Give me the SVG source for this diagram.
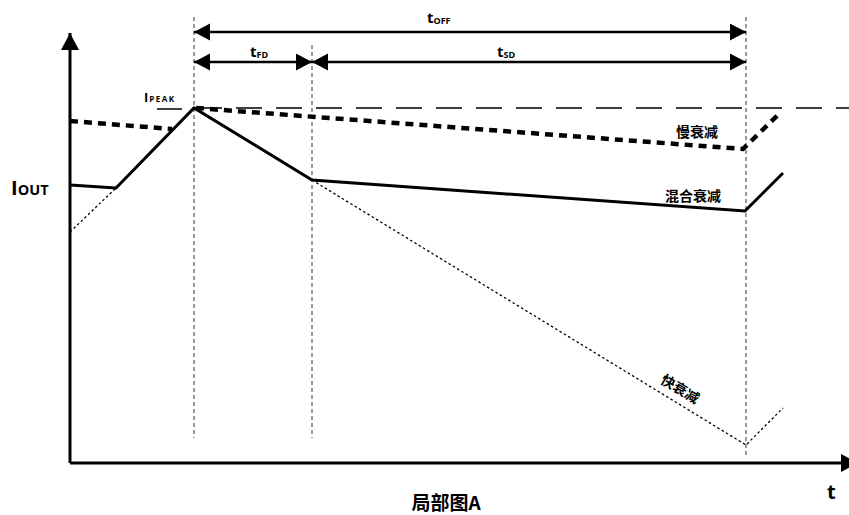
<svg xmlns="http://www.w3.org/2000/svg" width="849" height="515" viewBox="0 0 849 515">
<style>
.axis{stroke:#000;stroke-width:3;fill:none}
.vguide{stroke:#999;stroke-width:2;stroke-dasharray:4 3;fill:none}
.dim{stroke:#000;stroke-width:2.5;fill:none}
.peakdash{stroke:#000;stroke-width:1.5;stroke-dasharray:26 14;fill:none}
.mixed{stroke:#000;stroke-width:3;fill:none;stroke-linejoin:miter}
.slow{stroke:#000;stroke-width:4.5;stroke-dasharray:8 6;fill:none}
.fast{stroke:#000;stroke-width:1.3;stroke-dasharray:2.5 2.5;fill:none}
.lbl{font-family:"Open Sans","Noto Sans","Liberation Sans",sans-serif;font-weight:bold;fill:#000}
.cjk{font-family:"Noto Sans CJK SC","Noto Sans",sans-serif;font-weight:bold;fill:#000;font-size:14px}
.title{font-family:"Noto Sans CJK SC","Noto Sans",sans-serif;font-weight:bold;fill:#000;font-size:19px}
</style>
<defs>
<marker id="ah" markerUnits="userSpaceOnUse" markerWidth="17" markerHeight="18" refX="16" refY="8.5" orient="auto-start-reverse" viewBox="0 0 17 18">
<path d="M0,0 L16,8.5 L0,17 z" fill="#000"/>
</marker>
<marker id="axh" markerUnits="userSpaceOnUse" markerWidth="18" markerHeight="20" refX="17" refY="9" orient="auto" viewBox="0 0 18 20">
<path d="M0,0 L17,9 L0,18 z" fill="#000"/>
</marker>
</defs>
<rect width="849" height="515" fill="#fff"/>

<g id="guides">
<line class="vguide" x1="194" y1="17" x2="194" y2="438"/>
<line class="vguide" x1="312" y1="45" x2="312" y2="438"/>
<line class="vguide" x1="746" y1="17" x2="746" y2="458"/>
</g>

<g id="axes">
<line class="axis" x1="70" y1="463" x2="70" y2="33" marker-end="url(#axh)"/>
<line class="axis" x1="70" y1="463" x2="858" y2="463" marker-end="url(#axh)"/>
</g>

<g id="connectors">
<line class="dim" x1="194" y1="32" x2="746" y2="32" marker-start="url(#ah)" marker-end="url(#ah)"/>
<line class="dim" x1="194" y1="62" x2="312" y2="62" marker-start="url(#ah)" marker-end="url(#ah)"/>
<line class="dim" x1="312" y1="62" x2="746" y2="62" marker-start="url(#ah)" marker-end="url(#ah)"/>
</g>

<g id="peak-line">
<line x1="157" y1="109" x2="182" y2="109" stroke="#000" stroke-width="1.5"/>
<line class="peakdash" x1="196" y1="108" x2="849" y2="108"/>
</g>

<g id="fast-decay">
<polyline class="fast" points="70,232 116,188"/>
<polyline class="fast" points="312,180 746,445 783,408"/>
</g>

<g id="slow-decay">
<polyline class="slow" points="70,121 172,129"/>
<polyline class="slow" points="196,108 743,149 781,112"/>
</g>

<g id="mixed-decay">
<polyline class="mixed" points="70,185 116,188 194,108 312,180 745,211 783,173"/>
</g>

<g id="labels">
<text class="lbl" x="427" y="23"><tspan font-size="15">t</tspan><tspan font-size="9" dy="1">OFF</tspan></text>
<text class="lbl" x="250" y="57"><tspan font-size="15">t</tspan><tspan font-size="9" dy="1">FD</tspan></text>
<text class="lbl" x="497" y="57"><tspan font-size="15">t</tspan><tspan font-size="9" dy="1">SD</tspan></text>
<text class="lbl" x="144" y="102"><tspan font-size="13">I</tspan><tspan font-size="8" dx="1" letter-spacing="1.5">PEAK</tspan></text>
<text class="lbl" x="11" y="195"><tspan font-size="20">I</tspan><tspan font-size="14.5">OUT</tspan></text>
<text class="lbl" x="827" y="499" font-size="20">t</text>
<text class="cjk" x="697" y="137" text-anchor="middle">慢衰减</text>
<text class="cjk" x="693" y="201" text-anchor="middle">混合衰减</text>
<text class="cjk" transform="translate(680,389) rotate(31)" text-anchor="middle" y="5">快衰减</text>
<text class="title" x="446" y="510" text-anchor="middle">局部图A</text>
</g>
</svg>
